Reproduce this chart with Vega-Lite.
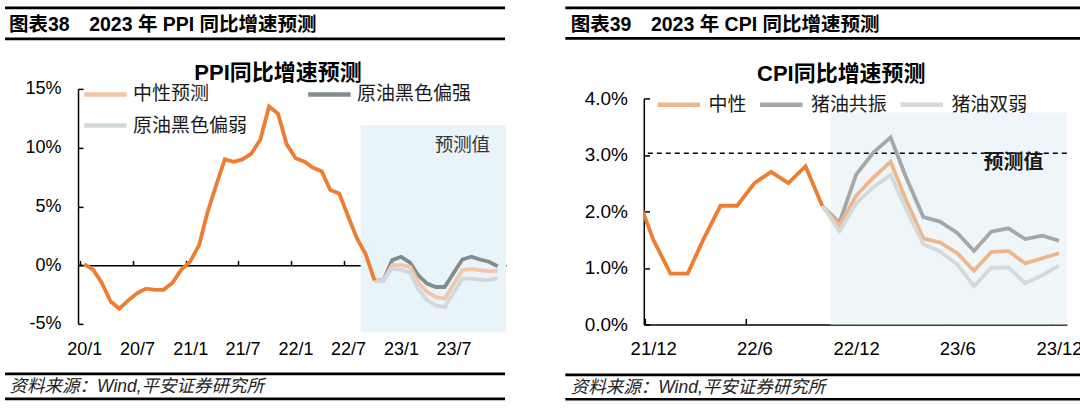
{
  "$schema": "https://vega.github.io/schema/vega-lite/v6.json",
  "padding": {"left": 3, "top": 5.9, "right": 0, "bottom": 0},
  "background": "white",
  "bounds": "full",
  "spacing": 56.8,
  "resolve": {"scale": {"color": "independent"}, "legend": {"color": "independent"}},
  "config": {
    "font": "Liberation Sans, Noto Sans CJK SC",
    "view": {"stroke": null},
    "axis": {"grid": false, "title": null, "labelColor": "black", "domainColor": "black", "tickColor": "black", "domainWidth": 1.5, "tickWidth": 1.5, "labelFlush": false, "labelOverlap": false}
  },
  "hconcat": [
    {
      "bounds": "flush",
      "spacing": 50,
      "resolve": {"scale": {"color": "independent"}, "legend": {"color": "independent"}},
      "vconcat": [
        {
          "width": 428, "height": 31,
          "data": {"values": [{"text": "图表38　2023 年 PPI 同比增速预测"}]},
          "layer": [
            {"mark": {"type": "rule", "strokeWidth": 2.8, "color": "black"},
             "encoding": {"x": {"datum": 0, "type": "quantitative", "scale": {"domain": [0, 1], "range": [-73, 427]}, "axis": null},
                          "x2": {"datum": 1},
                          "y": {"datum": 1, "type": "quantitative", "scale": {"domain": [0, 1]}, "axis": null}}},
            {"mark": {"type": "rule", "strokeWidth": 2.8, "color": "black"},
             "encoding": {"x": {"datum": 0, "type": "quantitative"}, "x2": {"datum": 1}, "y": {"datum": 0, "type": "quantitative"}}},
            {"mark": {"type": "text", "align": "left", "baseline": "middle", "dx": 4, "fontSize": 19.5, "fontWeight": "bold", "color": "black"},
             "encoding": {"x": {"datum": 0, "type": "quantitative"}, "y": {"datum": 0.45, "type": "quantitative"}, "text": {"field": "text"}}}
          ]
        },
        {
          "width": 428, "height": 235,
          "title": {"text": "PPI同比增速预测", "fontSize": 22, "fontWeight": "bold", "color": "black", "anchor": "middle", "frame": "group", "dx": -14, "offset": -5.5},
          "data": {"values": [
            {"month": "2020-01", "series": "实际", "value": 0.1},
            {"month": "2020-02", "series": "实际", "value": -0.4},
            {"month": "2020-03", "series": "实际", "value": -1.5},
            {"month": "2020-04", "series": "实际", "value": -3.1},
            {"month": "2020-05", "series": "实际", "value": -3.7},
            {"month": "2020-06", "series": "实际", "value": -3.0},
            {"month": "2020-07", "series": "实际", "value": -2.4},
            {"month": "2020-08", "series": "实际", "value": -2.0},
            {"month": "2020-09", "series": "实际", "value": -2.1},
            {"month": "2020-10", "series": "实际", "value": -2.1},
            {"month": "2020-11", "series": "实际", "value": -1.5},
            {"month": "2020-12", "series": "实际", "value": -0.4},
            {"month": "2021-01", "series": "实际", "value": 0.3},
            {"month": "2021-02", "series": "实际", "value": 1.7},
            {"month": "2021-03", "series": "实际", "value": 4.4},
            {"month": "2021-04", "series": "实际", "value": 6.8},
            {"month": "2021-05", "series": "实际", "value": 9.0},
            {"month": "2021-06", "series": "实际", "value": 8.8},
            {"month": "2021-07", "series": "实际", "value": 9.0},
            {"month": "2021-08", "series": "实际", "value": 9.5},
            {"month": "2021-09", "series": "实际", "value": 10.7},
            {"month": "2021-10", "series": "实际", "value": 13.5},
            {"month": "2021-11", "series": "实际", "value": 12.9},
            {"month": "2021-12", "series": "实际", "value": 10.3},
            {"month": "2022-01", "series": "实际", "value": 9.1},
            {"month": "2022-02", "series": "实际", "value": 8.8},
            {"month": "2022-03", "series": "实际", "value": 8.3},
            {"month": "2022-04", "series": "实际", "value": 8.0},
            {"month": "2022-05", "series": "实际", "value": 6.4},
            {"month": "2022-06", "series": "实际", "value": 6.1},
            {"month": "2022-07", "series": "实际", "value": 4.2},
            {"month": "2022-08", "series": "实际", "value": 2.3},
            {"month": "2022-09", "series": "实际", "value": 0.9},
            {"month": "2022-10", "series": "实际", "value": -1.3},
            {"month": "2022-10", "series": "原油黑色偏强", "value": -1.3},
            {"month": "2022-11", "series": "原油黑色偏强", "value": -1.3},
            {"month": "2022-12", "series": "原油黑色偏强", "value": 0.43},
            {"month": "2023-01", "series": "原油黑色偏强", "value": 0.71},
            {"month": "2023-02", "series": "原油黑色偏强", "value": 0.22},
            {"month": "2023-03", "series": "原油黑色偏强", "value": -0.86},
            {"month": "2023-04", "series": "原油黑色偏强", "value": -1.57},
            {"month": "2023-05", "series": "原油黑色偏强", "value": -1.86},
            {"month": "2023-06", "series": "原油黑色偏强", "value": -1.86},
            {"month": "2023-07", "series": "原油黑色偏强", "value": -0.69},
            {"month": "2023-08", "series": "原油黑色偏强", "value": 0.48},
            {"month": "2023-09", "series": "原油黑色偏强", "value": 0.71},
            {"month": "2023-10", "series": "原油黑色偏强", "value": 0.48},
            {"month": "2023-11", "series": "原油黑色偏强", "value": 0.29},
            {"month": "2023-12", "series": "原油黑色偏强", "value": -0.09},
            {"month": "2022-10", "series": "中性预测", "value": -1.3},
            {"month": "2022-11", "series": "中性预测", "value": -1.3},
            {"month": "2022-12", "series": "中性预测", "value": 0.0},
            {"month": "2023-01", "series": "中性预测", "value": 0.0},
            {"month": "2023-02", "series": "中性预测", "value": -0.14},
            {"month": "2023-03", "series": "中性预测", "value": -1.43},
            {"month": "2023-04", "series": "中性预测", "value": -2.28},
            {"month": "2023-05", "series": "中性预测", "value": -2.71},
            {"month": "2023-06", "series": "中性预测", "value": -2.85},
            {"month": "2023-07", "series": "中性预测", "value": -1.64},
            {"month": "2023-08", "series": "中性预测", "value": -0.43},
            {"month": "2023-09", "series": "中性预测", "value": -0.34},
            {"month": "2023-10", "series": "中性预测", "value": -0.43},
            {"month": "2023-11", "series": "中性预测", "value": -0.51},
            {"month": "2023-12", "series": "中性预测", "value": -0.48},
            {"month": "2022-10", "series": "原油黑色偏弱", "value": -1.3},
            {"month": "2022-11", "series": "原油黑色偏弱", "value": -1.3},
            {"month": "2022-12", "series": "原油黑色偏弱", "value": -0.29},
            {"month": "2023-01", "series": "原油黑色偏弱", "value": -0.4},
            {"month": "2023-02", "series": "原油黑色偏弱", "value": -0.63},
            {"month": "2023-03", "series": "原油黑色偏弱", "value": -2.0},
            {"month": "2023-04", "series": "原油黑色偏弱", "value": -3.0},
            {"month": "2023-05", "series": "原油黑色偏弱", "value": -3.42},
            {"month": "2023-06", "series": "原油黑色偏弱", "value": -3.57},
            {"month": "2023-07", "series": "原油黑色偏弱", "value": -2.36},
            {"month": "2023-08", "series": "原油黑色偏弱", "value": -1.14},
            {"month": "2023-09", "series": "原油黑色偏弱", "value": -1.14},
            {"month": "2023-10", "series": "原油黑色偏弱", "value": -1.23},
            {"month": "2023-11", "series": "原油黑色偏弱", "value": -1.29},
            {"month": "2023-12", "series": "原油黑色偏弱", "value": -1.09}
          ]},
          "layer": [
            {
              "data": {"values": [{"label": "预测值"}]},
              "mark": {"type": "rect", "color": "#E9F3FA"},
              "encoding": {
                "x": {"datum": {"year": 2022, "month": 8, "date": 14, "utc": true}, "type": "temporal"},
                "x2": {"datum": {"year": 2023, "month": 12, "date": 30, "utc": true}},
                "y": {"datum": 11.9, "type": "quantitative"},
                "y2": {"datum": -5.7}
              }
            },
            {
              "data": {"values": [{"label": "预测值"}]},
              "mark": {"type": "text", "fontSize": 18.5, "color": "#333333", "align": "center", "baseline": "middle"},
              "encoding": {
                "x": {"datum": {"year": 2023, "month": 8, "date": 1, "utc": true}, "type": "temporal"},
                "y": {"datum": 10.2, "type": "quantitative"},
                "text": {"field": "label"}
              }
            },
            {
              "transform": [{"filter": "datum.series !== '实际'"}],
              "mark": {"type": "line", "strokeWidth": 3.8},
              "encoding": {
                "x": {"field": "month", "type": "temporal",
                      "scale": {"type": "utc", "domain": [{"year": 2019, "month": 12, "date": 10, "utc": true}, {"year": 2023, "month": 12, "date": 30, "utc": true}]},
                      "axis": {
                        "values": [{"year": 2020, "month": 1, "date": 1, "utc": true}, {"year": 2020, "month": 7, "date": 1, "utc": true}, {"year": 2021, "month": 1, "date": 1, "utc": true}, {"year": 2021, "month": 7, "date": 1, "utc": true}, {"year": 2022, "month": 1, "date": 1, "utc": true}, {"year": 2022, "month": 7, "date": 1, "utc": true}, {"year": 2023, "month": 1, "date": 1, "utc": true}, {"year": 2023, "month": 7, "date": 1, "utc": true}],
                        "labelExpr": "utcFormat(datum.value, '%y/%-m')",
                        "offset": -58.75, "tickSize": -4.7, "tickOffset": -4.4, "labelOffset": 4.4, "labelPadding": 80, "labelFontSize": 18
                      }},
                "y": {"field": "value", "type": "quantitative",
                      "scale": {"domain": [-5, 15], "nice": false, "zero": false},
                      "axis": {"values": [-5, 0, 5, 10, 15], "labelExpr": "datum.value + '%'", "tickSize": -5, "labelPadding": 22, "labelFontSize": 18}},
                "color": {"field": "series", "type": "nominal",
                          "scale": {"domain": ["中性预测", "原油黑色偏弱", "原油黑色偏强"], "range": ["#F3C6A6", "#D0D8DB", "#838C8C"]},
                          "legend": {"orient": "none", "legendX": 14.4, "legendY": -7.5, "columns": 2, "title": null, "symbolType": "M-2,0H2", "symbolSize": 450, "symbolStrokeWidth": 4.5, "labelFontSize": 19, "labelColor": "#1a1a1a", "columnPadding": 51, "rowPadding": 8.2, "labelOffset": 14.6, "padding": 0}}
              }
            },
            {
              "transform": [{"filter": "datum.series === '实际'"}],
              "mark": {"type": "line", "strokeWidth": 3.8, "color": "#ED7D31"},
              "encoding": {
                "x": {"field": "month", "type": "temporal"},
                "y": {"field": "value", "type": "quantitative"}
              }
            }
          ]
        },
        {
          "width": 428, "height": 25,
          "data": {"values": [{"text": "资料来源：Wind,平安证券研究所"}]},
          "layer": [
            {"mark": {"type": "rule", "strokeWidth": 2.6, "color": "black"},
             "encoding": {"x": {"datum": 0, "type": "quantitative", "scale": {"domain": [0, 1], "range": [-73, 427]}, "axis": null},
                          "x2": {"datum": 1},
                          "y": {"datum": 1, "type": "quantitative", "scale": {"domain": [0, 1]}, "axis": null}}},
            {"mark": {"type": "rule", "strokeWidth": 2.6, "color": "black"},
             "encoding": {"x": {"datum": 0, "type": "quantitative"}, "x2": {"datum": 1}, "y": {"datum": 0, "type": "quantitative"}}},
            {"mark": {"type": "text", "align": "left", "baseline": "middle", "dx": 4.6, "fontSize": 17.5, "fontStyle": "italic", "color": "#222222"},
             "encoding": {"x": {"datum": 0, "type": "quantitative"}, "y": {"datum": 0.48, "type": "quantitative"}, "text": {"field": "text"}}}
          ]
        }
      ]
    },
    {
      "bounds": "flush",
      "spacing": 50.5,
      "resolve": {"scale": {"color": "independent"}, "legend": {"color": "independent"}},
      "vconcat": [
        {
          "width": 423, "height": 39.7,
          "data": {"values": [{"text": "图表39　2023 年 CPI 同比增速预测"}]},
          "layer": [
            {"mark": {"type": "rule", "strokeWidth": 2.8, "color": "black"},
             "encoding": {"x": {"datum": 0, "type": "quantitative", "scale": {"domain": [0, 1], "range": [-78.5, 437.7]}, "axis": null},
                          "x2": {"datum": 1},
                          "y": {"datum": 1, "type": "quantitative", "scale": {"domain": [0, 1], "range": [30.4, 0]}, "axis": null}}},
            {"mark": {"type": "rule", "strokeWidth": 2.8, "color": "black"},
             "encoding": {"x": {"datum": 0, "type": "quantitative"}, "x2": {"datum": 1}, "y": {"datum": 0, "type": "quantitative"}}},
            {"mark": {"type": "text", "align": "left", "baseline": "middle", "dx": 5.5, "fontSize": 19.5, "fontWeight": "bold", "color": "black"},
             "encoding": {"x": {"datum": 0, "type": "quantitative"}, "y": {"datum": 0.45, "type": "quantitative"}, "text": {"field": "text"}}}
          ]
        },
        {
          "width": 423, "height": 226,
          "title": {"text": "CPI同比增速预测", "fontSize": 22, "fontWeight": "bold", "color": "black", "anchor": "middle", "frame": "group", "dx": -14, "offset": 3},
          "data": {"values": [
            {"month": "2021-11", "series": "实际", "value": 2.3},
            {"month": "2021-12", "series": "实际", "value": 1.5},
            {"month": "2022-01", "series": "实际", "value": 0.9},
            {"month": "2022-02", "series": "实际", "value": 0.9},
            {"month": "2022-03", "series": "实际", "value": 1.5},
            {"month": "2022-04", "series": "实际", "value": 2.1},
            {"month": "2022-05", "series": "实际", "value": 2.1},
            {"month": "2022-06", "series": "实际", "value": 2.5},
            {"month": "2022-07", "series": "实际", "value": 2.7},
            {"month": "2022-08", "series": "实际", "value": 2.5},
            {"month": "2022-09", "series": "实际", "value": 2.8},
            {"month": "2022-10", "series": "实际", "value": 2.1},
            {"month": "2022-10", "series": "猪油共振", "value": 2.1},
            {"month": "2022-11", "series": "猪油共振", "value": 1.8},
            {"month": "2022-12", "series": "猪油共振", "value": 2.65},
            {"month": "2023-01", "series": "猪油共振", "value": 3.04},
            {"month": "2023-02", "series": "猪油共振", "value": 3.31},
            {"month": "2023-03", "series": "猪油共振", "value": 2.6},
            {"month": "2023-04", "series": "猪油共振", "value": 1.9},
            {"month": "2023-05", "series": "猪油共振", "value": 1.82},
            {"month": "2023-06", "series": "猪油共振", "value": 1.62},
            {"month": "2023-07", "series": "猪油共振", "value": 1.3},
            {"month": "2023-08", "series": "猪油共振", "value": 1.64},
            {"month": "2023-09", "series": "猪油共振", "value": 1.7},
            {"month": "2023-10", "series": "猪油共振", "value": 1.51},
            {"month": "2023-11", "series": "猪油共振", "value": 1.57},
            {"month": "2023-12", "series": "猪油共振", "value": 1.48},
            {"month": "2022-10", "series": "中性", "value": 2.1},
            {"month": "2022-11", "series": "中性", "value": 1.75},
            {"month": "2022-12", "series": "中性", "value": 2.28},
            {"month": "2023-01", "series": "中性", "value": 2.6},
            {"month": "2023-02", "series": "中性", "value": 2.88},
            {"month": "2023-03", "series": "中性", "value": 2.2},
            {"month": "2023-04", "series": "中性", "value": 1.52},
            {"month": "2023-05", "series": "中性", "value": 1.45},
            {"month": "2023-06", "series": "中性", "value": 1.26},
            {"month": "2023-07", "series": "中性", "value": 0.95},
            {"month": "2023-08", "series": "中性", "value": 1.28},
            {"month": "2023-09", "series": "中性", "value": 1.3},
            {"month": "2023-10", "series": "中性", "value": 1.08},
            {"month": "2023-11", "series": "中性", "value": 1.17},
            {"month": "2023-12", "series": "中性", "value": 1.26},
            {"month": "2022-10", "series": "猪油双弱", "value": 2.1},
            {"month": "2022-11", "series": "猪油双弱", "value": 1.65},
            {"month": "2022-12", "series": "猪油双弱", "value": 2.14},
            {"month": "2023-01", "series": "猪油双弱", "value": 2.43},
            {"month": "2023-02", "series": "猪油双弱", "value": 2.65},
            {"month": "2023-03", "series": "猪油双弱", "value": 2.03},
            {"month": "2023-04", "series": "猪油双弱", "value": 1.42},
            {"month": "2023-05", "series": "猪油双弱", "value": 1.29},
            {"month": "2023-06", "series": "猪油双弱", "value": 1.06},
            {"month": "2023-07", "series": "猪油双弱", "value": 0.68},
            {"month": "2023-08", "series": "猪油双弱", "value": 1.0},
            {"month": "2023-09", "series": "猪油双弱", "value": 1.01},
            {"month": "2023-10", "series": "猪油双弱", "value": 0.73},
            {"month": "2023-11", "series": "猪油双弱", "value": 0.87},
            {"month": "2023-12", "series": "猪油双弱", "value": 1.04}
          ]},
          "layer": [
            {
              "data": {"values": [{"label": "预测值"}]},
              "mark": {"type": "rect", "color": "#EEF6F9"},
              "encoding": {
                "x": {"datum": {"year": 2022, "month": 10, "date": 16, "utc": true}, "type": "temporal"},
                "x2": {"datum": {"year": 2023, "month": 12, "date": 15, "utc": true}},
                "y": {"datum": 3.75, "type": "quantitative"},
                "y2": {"datum": 0}
              }
            },
            {
              "data": {"values": [{"label": "预测值"}]},
              "mark": {"type": "rule", "strokeDash": [5, 4], "strokeWidth": 1.5, "color": "black"},
              "encoding": {"y": {"datum": 3.03, "type": "quantitative"}}
            },
            {
              "data": {"values": [{"label": "预测值"}]},
              "mark": {"type": "text", "fontSize": 20, "fontWeight": "bold", "color": "#1a1a1a", "align": "center", "baseline": "middle"},
              "encoding": {
                "x": {"datum": {"year": 2023, "month": 9, "date": 10, "utc": true}, "type": "temporal"},
                "y": {"datum": 2.86, "type": "quantitative"},
                "text": {"field": "label"}
              }
            },
            {
              "transform": [{"filter": "datum.series !== '实际'"}],
              "mark": {"type": "line", "strokeWidth": 3.8, "clip": true},
              "encoding": {
                "x": {"field": "month", "type": "temporal",
                      "scale": {"type": "utc", "domain": [{"year": 2021, "month": 11, "date": 14, "utc": true}, {"year": 2023, "month": 12, "date": 15, "utc": true}]},
                      "axis": {
                        "values": [{"year": 2021, "month": 12, "date": 1, "utc": true}, {"year": 2022, "month": 6, "date": 1, "utc": true}, {"year": 2022, "month": 12, "date": 1, "utc": true}, {"year": 2023, "month": 6, "date": 1, "utc": true}, {"year": 2023, "month": 12, "date": 1, "utc": true}],
                        "labelExpr": "utcFormat(datum.value, '%y/%-m')",
                        "tickSize": -6, "tickOffset": -8.4, "labelOffset": 8.4, "labelPadding": 21.2, "labelFontSize": 18.5
                      }},
                "y": {"field": "value", "type": "quantitative",
                      "scale": {"domain": [0, 4], "nice": false, "zero": false},
                      "axis": {"values": [0, 1, 2, 3, 4], "labelExpr": "format(datum.value, '.1f') + '%'", "tickSize": -5.7, "labelPadding": 22, "labelFontSize": 19}},
                "color": {"field": "series", "type": "nominal",
                          "scale": {"domain": ["中性", "猪油共振", "猪油双弱"], "range": ["#EFB68C", "#A5A8A8", "#D4D9D9"]},
                          "legend": {"orient": "none", "legendX": 22, "legendY": -6.7, "columns": 3, "direction": "horizontal", "title": null, "symbolType": "M-2,0H2", "symbolSize": 450, "symbolStrokeWidth": 4.5, "labelFontSize": 19, "labelColor": "#1a1a1a", "columnPadding": 3.5, "labelOffset": 16.6, "padding": 0}}
              }
            },
            {
              "transform": [{"filter": "datum.series === '实际'"}],
              "mark": {"type": "line", "strokeWidth": 3.8, "color": "#ED7D31", "clip": true},
              "encoding": {
                "x": {"field": "month", "type": "temporal"},
                "y": {"field": "value", "type": "quantitative"}
              }
            }
          ]
        },
        {
          "width": 423, "height": 24.3,
          "data": {"values": [{"text": "资料来源：Wind,平安证券研究所"}]},
          "layer": [
            {"mark": {"type": "rule", "strokeWidth": 2.6, "color": "black"},
             "encoding": {"x": {"datum": 0, "type": "quantitative", "scale": {"domain": [0, 1], "range": [-78.5, 437.7]}, "axis": null},
                          "x2": {"datum": 1},
                          "y": {"datum": 1, "type": "quantitative", "scale": {"domain": [0, 1]}, "axis": null}}},
            {"mark": {"type": "rule", "strokeWidth": 2.6, "color": "black"},
             "encoding": {"x": {"datum": 0, "type": "quantitative"}, "x2": {"datum": 1}, "y": {"datum": 0, "type": "quantitative"}}},
            {"mark": {"type": "text", "align": "left", "baseline": "middle", "dx": 5.5, "fontSize": 17.5, "fontStyle": "italic", "color": "#222222"},
             "encoding": {"x": {"datum": 0, "type": "quantitative"}, "y": {"datum": 0.48, "type": "quantitative"}, "text": {"field": "text"}}}
          ]
        }
      ]
    }
  ]
}
